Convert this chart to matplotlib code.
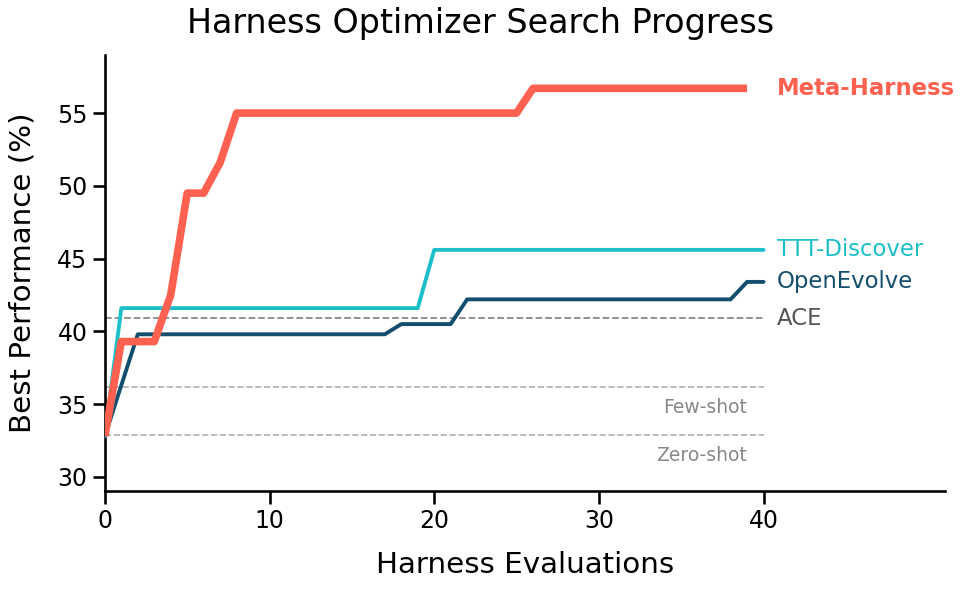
#!/usr/bin/env python3
"""Best-so-far performance of harness optimizers over evaluations."""

import matplotlib
matplotlib.use("Agg")
import matplotlib.pyplot as plt
import seaborn as sns

# step curves (x = evaluations, y = best performance %)
meta_x = [0, 1, 3, 4, 5, 6, 7, 8, 25, 26, 39]
meta_y = [32.8, 39.3, 39.3, 42.5, 49.5, 49.5, 51.6, 55.0, 55.0, 56.7, 56.7]

ttt_x = [0, 1, 19, 20, 40]
ttt_y = [32.8, 41.6, 41.6, 45.6, 45.6]

oe_x = [0, 2, 17, 18, 21, 22, 38, 39, 40]
oe_y = [32.8, 39.8, 39.8, 40.5, 40.5, 42.2, 42.2, 43.4, 43.4]

# fixed baselines
ACE = 40.9
FEW_SHOT = 36.2
ZERO_SHOT = 32.9

COLOR_META = "#FF6150"
COLOR_TTT = "#1CBFC8"
COLOR_OE = "#144E6E"

sns.set_theme(style="ticks", context="talk")
plt.rcParams["font.family"] = ["DejaVu Sans"]
plt.rcParams.update({
    "axes.edgecolor": "black",
    "axes.labelcolor": "black",
    "text.color": "black",
    "xtick.color": "black",
    "ytick.color": "black",
})

fig, ax = plt.subplots(figsize=(9.62, 5.9), dpi=100)
fig.subplots_adjust(left=0.109, right=0.982, bottom=0.167, top=0.907)

# baselines
ax.hlines(ACE, 0, 40, colors="#888888", linestyles="--", linewidth=1.3)
ax.hlines([FEW_SHOT, ZERO_SHOT], 0, 40, colors="#b0b0b0", linestyles="--", linewidth=1.2)

ax.plot(oe_x, oe_y, color=COLOR_OE, linewidth=2.8, zorder=3)
ax.plot(ttt_x, ttt_y, color=COLOR_TTT, linewidth=2.8, zorder=3)
ax.plot(meta_x, meta_y, color=COLOR_META, linewidth=5.5, zorder=4,
        solid_capstyle="butt")

label_x = 40.8
ax.text(label_x, meta_y[-1], "Meta-Harness", color=COLOR_META, fontsize=16.4,
        weight="bold", va="center", ha="left")
ax.text(label_x, ttt_y[-1], "TTT-Discover", color=COLOR_TTT, fontsize=16.4,
        va="center", ha="left")
ax.text(label_x, oe_y[-1], "OpenEvolve", color=COLOR_OE, fontsize=16.4,
        va="center", ha="left")
ax.text(label_x, ACE, "ACE", color="#555555", fontsize=16.4,
        va="center", ha="left")
ax.text(39, FEW_SHOT - 1.4, "Few-shot", color="#888888", fontsize=13.5,
        va="center", ha="right")
ax.text(39, ZERO_SHOT - 1.4, "Zero-shot", color="#888888", fontsize=13.5,
        va="center", ha="right")

ax.set_xlim(0, 51)
ax.set_ylim(29, 59)
ax.set_xticks([0, 10, 20, 30, 40])
ax.set_yticks([30, 35, 40, 45, 50, 55])
ax.tick_params(labelsize=17)
ax.set_xlabel("Harness Evaluations", fontsize=21.2, labelpad=13)
ax.set_ylabel("Best Performance (%)", fontsize=21.2, labelpad=15)
# title is centred on the whole figure, not on the axes
fig.suptitle("Harness Optimizer Search Progress", fontsize=24, x=0.5, y=0.988,
             va="top")
sns.despine(ax=ax)

fig.savefig("out.png", dpi=100)
plt.close(fig)
